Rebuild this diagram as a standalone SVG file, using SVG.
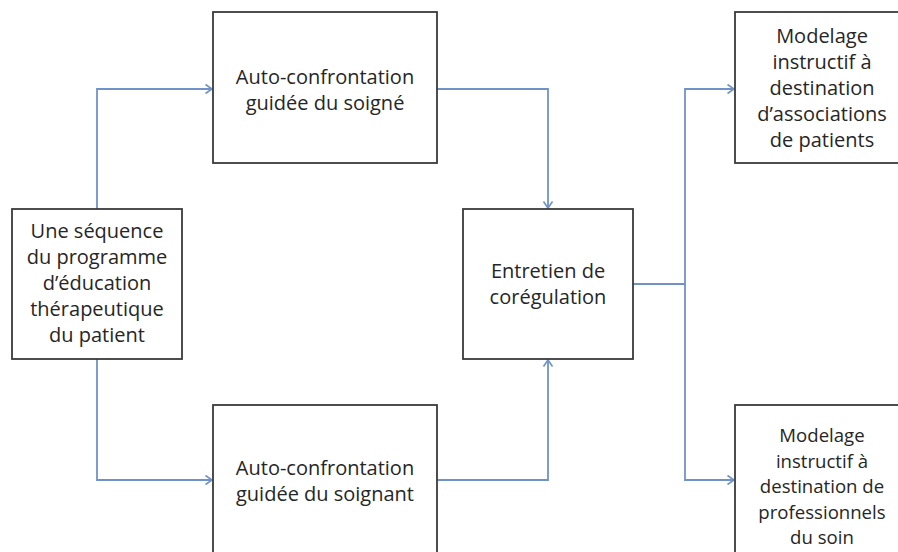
<svg xmlns="http://www.w3.org/2000/svg" width="898" height="552" viewBox="0 0 898 552">
<style>
.box{fill:#fff;stroke:#3a3a3a;stroke-width:1.8}
.lbl{font-family:"Open Sans","Liberation Sans",sans-serif;font-size:20px;fill:#262626;text-anchor:middle}
.sm{font-size:18.6px}
.con{fill:none;stroke:#6f93c9;stroke-width:1.8}
</style>
<defs>
<marker id="arr" markerUnits="userSpaceOnUse" markerWidth="12" markerHeight="12" viewBox="-8 -6 10 12" refX="0" refY="0" orient="auto">
<path d="M-6.5,-4.5 L0,0 L-6.5,4.5" fill="none" stroke="#6f93c9" stroke-width="1.6"/>
</marker>
</defs>
<rect width="898" height="552" fill="#fff"/>
<g id="connectors">
<path class="con" d="M97,209 V89 H212" marker-end="url(#arr)"/>
<path class="con" d="M97,359 V480 H212" marker-end="url(#arr)"/>
<path class="con" d="M437,89 H548 V208" marker-end="url(#arr)"/>
<path class="con" d="M437,480 H548 V360" marker-end="url(#arr)"/>
<path class="con" d="M633,284 H685 V89 H734" marker-end="url(#arr)"/>
<path class="con" d="M685,284 V480 H734" marker-end="url(#arr)"/>
</g>
<g id="sequence">
<rect class="box" x="12" y="209" width="170" height="150"/>
<text class="lbl"><tspan x="97" y="238">Une séquence</tspan><tspan x="97" y="264">du programme</tspan><tspan x="97" y="290">d’éducation</tspan><tspan x="97" y="316">thérapeutique</tspan><tspan x="97" y="342">du patient</tspan></text>
</g>
<g id="autoconf-soigne">
<rect class="box" x="213" y="12" width="224" height="151"/>
<text class="lbl"><tspan x="325" y="84">Auto-confrontation</tspan><tspan x="325" y="110">guidée du soigné</tspan></text>
</g>
<g id="autoconf-soignant">
<rect class="box" x="213" y="405" width="224" height="160"/>
<text class="lbl"><tspan x="325" y="475">Auto-confrontation</tspan><tspan x="325" y="501">guidée du soignant</tspan></text>
</g>
<g id="entretien">
<rect class="box" x="463" y="209" width="170" height="150"/>
<text class="lbl"><tspan x="548" y="278">Entretien de</tspan><tspan x="548" y="304">corégulation</tspan></text>
</g>
<g id="modelage-patients">
<rect class="box" x="735" y="12" width="174" height="151"/>
<text class="lbl"><tspan x="822" y="43">Modelage</tspan><tspan x="822" y="69">instructif à</tspan><tspan x="822" y="95">destination</tspan><tspan x="822" y="121">d’associations</tspan><tspan x="822" y="147">de patients</tspan></text>
</g>
<g id="modelage-professionnels">
<rect class="box" x="735" y="405" width="174" height="160"/>
<text class="lbl sm"><tspan x="822" y="442">Modelage</tspan><tspan x="822" y="467.5">instructif à</tspan><tspan x="822" y="493">destination de</tspan><tspan x="822" y="518.5">professionnels</tspan><tspan x="822" y="544">du soin</tspan></text>
</g>
</svg>
